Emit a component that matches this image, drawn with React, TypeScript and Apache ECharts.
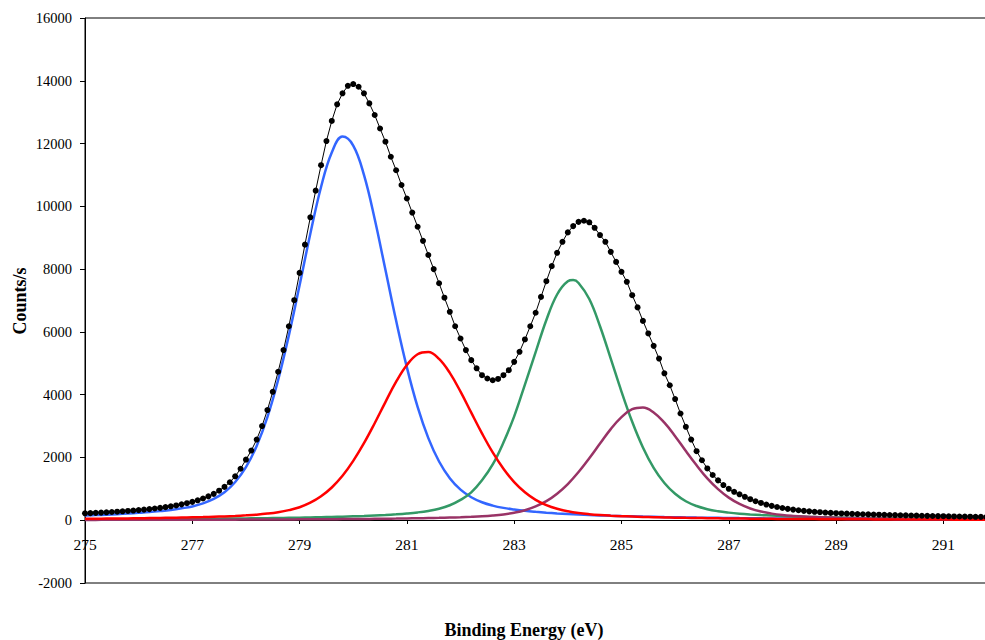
import React, { useEffect, useRef } from "react";
import * as echarts from "echarts";

// Tick labels of the energy axis
const X_TICKS = [275, 277, 279, 281, 283, 285, 287, 289, 291];

// Measured envelope (0.1 eV steps)
const ENVELOPE_ENERGY = [
  275.0, 275.1, 275.2, 275.3, 275.4, 275.5, 275.6, 275.7, 275.8, 275.9,
  276.0, 276.1, 276.2, 276.3, 276.4, 276.5, 276.6, 276.7, 276.8, 276.9,
  277.0, 277.1, 277.2, 277.3, 277.4, 277.5, 277.6, 277.7, 277.8, 277.9,
  278.0, 278.1, 278.2, 278.3, 278.4, 278.5, 278.6, 278.7, 278.8, 278.9,
  279.0, 279.1, 279.2, 279.3, 279.4, 279.5, 279.6, 279.7, 279.8, 279.9,
  280.0, 280.1, 280.2, 280.3, 280.4, 280.5, 280.6, 280.7, 280.8, 280.9,
  281.0, 281.1, 281.2, 281.3, 281.4, 281.5, 281.6, 281.7, 281.8, 281.9,
  282.0, 282.1, 282.2, 282.3, 282.4, 282.5, 282.6, 282.7, 282.8, 282.9,
  283.0, 283.1, 283.2, 283.3, 283.4, 283.5, 283.6, 283.7, 283.8, 283.9,
  284.0, 284.1, 284.2, 284.3, 284.4, 284.5, 284.6, 284.7, 284.8, 284.9,
  285.0, 285.1, 285.2, 285.3, 285.4, 285.5, 285.6, 285.7, 285.8, 285.9,
  286.0, 286.1, 286.2, 286.3, 286.4, 286.5, 286.6, 286.7, 286.8, 286.9,
  287.0, 287.1, 287.2, 287.3, 287.4, 287.5, 287.6, 287.7, 287.8, 287.9,
  288.0, 288.1, 288.2, 288.3, 288.4, 288.5, 288.6, 288.7, 288.8, 288.9,
  289.0, 289.1, 289.2, 289.3, 289.4, 289.5, 289.6, 289.7, 289.8, 289.9,
  290.0, 290.1, 290.2, 290.3, 290.4, 290.5, 290.6, 290.7, 290.8, 290.9,
  291.0, 291.1, 291.2, 291.3, 291.4, 291.5, 291.6, 291.7, 291.8,
];
const ENVELOPE_COUNTS = [
  220, 226, 235, 243, 252, 262, 272, 283, 295, 308,
  322, 337, 354, 373, 394, 417, 443, 472, 505, 542,
  585, 634, 692, 760, 840, 940, 1062, 1210, 1400, 1640,
  1930, 2220, 2570, 3000, 3510, 4090, 4730, 5420, 6180, 7010,
  7880, 8780, 9650, 10500, 11310, 12080, 12720, 13250, 13600, 13840,
  13895, 13810, 13600, 13280, 12910, 12480, 12060, 11580, 11150, 10680,
  10250, 9800, 9350, 8900, 8450, 8000, 7550, 7090, 6640, 6180,
  5790, 5420, 5100, 4840, 4620, 4515, 4460, 4500, 4620, 4780,
  5045, 5365, 5760, 6180, 6610, 7115, 7615, 8095, 8520, 8870,
  9170, 9370, 9505, 9540, 9490, 9315, 9085, 8870, 8550, 8230,
  7915, 7595, 7170, 6780, 6350, 5950, 5555, 5150, 4680, 4300,
  3860, 3400, 2975, 2570, 2200, 1910, 1650, 1440, 1270, 1120,
  1000, 905, 825, 745, 670, 605, 550, 500, 458, 422,
  390, 362, 338, 317, 298, 282, 268, 255, 244, 234,
  225, 217, 210, 203, 197, 191, 186, 181, 176, 172,
  167, 163, 159, 155, 151, 147, 143, 139, 135, 131,
  128, 124, 121, 118, 115, 112, 109, 106, 103,
];

// Fitted components (0.2 eV steps)
const COMPONENT_ENERGY = [
  275.0, 275.2, 275.4, 275.6, 275.8, 276.0, 276.2, 276.4, 276.6, 276.8,
  277.0, 277.2, 277.4, 277.6, 277.8, 278.0, 278.2, 278.4, 278.6, 278.8,
  279.0, 279.2, 279.4, 279.6, 279.8, 280.0, 280.2, 280.4, 280.6, 280.8,
  281.0, 281.2, 281.4, 281.6, 281.8, 282.0, 282.2, 282.4, 282.6, 282.8,
  283.0, 283.2, 283.4, 283.6, 283.8, 284.0, 284.2, 284.4, 284.6, 284.8,
  285.0, 285.2, 285.4, 285.6, 285.8, 286.0, 286.2, 286.4, 286.6, 286.8,
  287.0, 287.2, 287.4, 287.6, 287.8, 288.0, 288.2, 288.4, 288.6, 288.8,
  289.0, 289.2, 289.4, 289.6, 289.8, 290.0, 290.2, 290.4, 290.6, 290.8,
  291.0, 291.2, 291.4, 291.6, 291.8,
];
// Green component has one extra reading at its apex (284.1 eV)
const GREEN_ENERGY = [
  275.0, 275.2, 275.4, 275.6, 275.8, 276.0, 276.2, 276.4, 276.6, 276.8,
  277.0, 277.2, 277.4, 277.6, 277.8, 278.0, 278.2, 278.4, 278.6, 278.8,
  279.0, 279.2, 279.4, 279.6, 279.8, 280.0, 280.2, 280.4, 280.6, 280.8,
  281.0, 281.2, 281.4, 281.6, 281.8, 282.0, 282.2, 282.4, 282.6, 282.8,
  283.0, 283.2, 283.4, 283.6, 283.8, 284.0, 284.1, 284.2, 284.4, 284.6, 284.8,
  285.0, 285.2, 285.4, 285.6, 285.8, 286.0, 286.2, 286.4, 286.6, 286.8,
  287.0, 287.2, 287.4, 287.6, 287.8, 288.0, 288.2, 288.4, 288.6, 288.8,
  289.0, 289.2, 289.4, 289.6, 289.8, 290.0, 290.2, 290.4, 290.6, 290.8,
  291.0, 291.2, 291.4, 291.6, 291.8,
];
const PEAK_BLUE = [
  150, 164, 177, 194, 213, 234, 258, 290, 328, 379,
  440, 536, 677, 889, 1217, 1690, 2368, 3284, 4468, 5889,
  7484, 9125, 10616, 11716, 12221, 11936, 11000, 9598, 7978, 6353,
  4870, 3611, 2616, 1871, 1339, 973, 732, 572, 466, 393,
  342, 300, 268, 241, 218, 198, 183, 168, 154, 142,
  132, 124, 115, 108, 100, 95, 90, 84, 79, 75,
  71, 67, 64, 60, 56, 55, 52, 50, 48, 45,
  44, 42, 40, 38, 37, 35, 34, 33, 32, 31,
  29, 28, 27, 26, 25,
];
const PEAK_RED = [
  45, 48, 51, 54, 58, 62, 67, 72, 78, 85,
  93, 101, 111, 122, 137, 155, 178, 211, 256, 321,
  414, 558, 762, 1043, 1414, 1890, 2453, 3090, 3764, 4414,
  4946, 5289, 5360, 5139, 4693, 4097, 3426, 2766, 2159, 1638,
  1214, 891, 650, 481, 364, 285, 230, 193, 166, 146,
  130, 117, 106, 97, 89, 82, 75, 70, 65, 60,
  56, 53, 49, 47, 44, 41, 39, 37, 35, 33,
  31, 30, 28, 27, 26, 25, 24, 23, 22, 21,
  20, 19, 19, 18, 17,
];
const PEAK_GREEN = [
  27, 28, 29, 30, 31, 33, 34, 37, 38, 41,
  43, 45, 48, 51, 54, 58, 62, 66, 70, 76,
  82, 88, 95, 104, 113, 125, 136, 151, 168, 189,
  215, 249, 297, 367, 477, 647, 887, 1271, 1776, 2476,
  3309, 4322, 5353, 6380, 7191, 7612, 7650, 7558, 7046, 6181, 5148,
  4100, 3137, 2318, 1668, 1186, 842, 604, 452, 351, 286,
  242, 209, 184, 164, 147, 134, 121, 111, 102, 94,
  86, 80, 75, 70, 65, 61, 58, 55, 52, 49,
  47, 45, 43, 41, 39,
];
const PEAK_PURPLE = [
  11, 11, 12, 12, 12, 13, 13, 14, 15, 15,
  16, 17, 18, 18, 19, 20, 22, 23, 24, 25,
  27, 29, 31, 33, 36, 38, 41, 44, 48, 52,
  57, 62, 68, 75, 84, 94, 107, 124, 149, 185,
  239, 318, 441, 608, 846, 1152, 1534, 1973, 2441, 2902,
  3283, 3539, 3593, 3434, 3107, 2678, 2203, 1750, 1332, 990,
  720, 518, 374, 275, 210, 165, 136, 115, 101, 89,
  79, 71, 65, 59, 55, 50, 46, 42, 40, 37,
  35, 32, 30, 28, 27,
];

const SERIF = "'Liberation Serif', 'Times New Roman', serif";

function pairs(xs: number[], ys: number[]) {
  return xs.map((x, i) => [x, ys[i]]);
}

function componentSeries(name: string, xs: number[], ys: number[], color: string) {
  return {
    name,
    type: "line",
    data: pairs(xs, ys),
    smooth: 0.4,
    showSymbol: false,
    symbol: "none",
    lineStyle: { color, width: 2.5 },
    itemStyle: { color },
  };
}

export default function App() {
  const ref = useRef<HTMLDivElement>(null);

  useEffect(() => {
    document.body.style.margin = "0";
    if (!ref.current) return;
    const chart = echarts.init(ref.current, undefined, { renderer: "svg" });
    chart.setOption({
      animation: false,
      grid: {
        left: 85,
        top: 18,
        width: 912,
        height: 565,
        containLabel: false,
        outerBoundsMode: "none",
        show: true,
        borderColor: "#000",
        borderWidth: 1,
        backgroundColor: "transparent",
      },
      xAxis: {
        type: "value",
        position: "bottom",
        min: 275,
        max: 292,
        offset: -63,
        axisLine: { show: true, onZero: false, lineStyle: { color: "#000", width: 1 } },
        axisTick: { show: true, length: 4, customValues: X_TICKS, lineStyle: { color: "#000" } },
        axisLabel: {
          customValues: X_TICKS,
          margin: 16,
          fontSize: 15.5,
          fontFamily: SERIF,
          color: "#000",
        },
        splitLine: { show: false },
      },
      yAxis: {
        type: "value",
        min: -2000,
        max: 16000,
        interval: 2000,
        axisLine: { show: true, lineStyle: { color: "#000", width: 1 } },
        axisTick: { show: true, length: 5, lineStyle: { color: "#000" } },
        axisLabel: {
          margin: 13,
          fontSize: 14.5,
          fontFamily: SERIF,
          color: "#000",
          formatter: (v: number) => String(v),
        },
        splitLine: { show: false },
      },
      series: [
        componentSeries("Peak 1", COMPONENT_ENERGY, PEAK_BLUE, "#3366FF"),
        componentSeries("Peak 3", GREEN_ENERGY, PEAK_GREEN, "#339966"),
        componentSeries("Peak 4", COMPONENT_ENERGY, PEAK_PURPLE, "#993366"),
        componentSeries("Peak 2", COMPONENT_ENERGY, PEAK_RED, "#FF0000"),
        {
          name: "Envelope",
          type: "line",
          data: pairs(ENVELOPE_ENERGY, ENVELOPE_COUNTS),
          showSymbol: true,
          showAllSymbol: true,
          symbol: "circle",
          symbolSize: 6,
          lineStyle: { color: "#000", width: 1 },
          itemStyle: { color: "#000", borderWidth: 0 },
        },
      ],
      graphic: [
        {
          type: "text",
          x: 524,
          y: 630,
          style: {
            text: "Binding Energy (eV)",
            font: `bold 18px ${SERIF}`,
            fill: "#000",
            align: "center",
            verticalAlign: "middle",
            textAlign: "center",
            textVerticalAlign: "middle",
          },
        },
        {
          type: "text",
          x: 20,
          y: 301,
          rotation: Math.PI / 2,
          style: {
            text: "Counts/s",
            font: `bold 18px ${SERIF}`,
            fill: "#000",
            align: "center",
            verticalAlign: "middle",
            textAlign: "center",
            textVerticalAlign: "middle",
          },
        },
      ],
    });
    return () => chart.dispose();
  }, []);

  return (
    <div
      ref={ref}
      style={{ position: "absolute", left: 0, top: 0, width: 985, height: 640 }}
    />
  );
}
